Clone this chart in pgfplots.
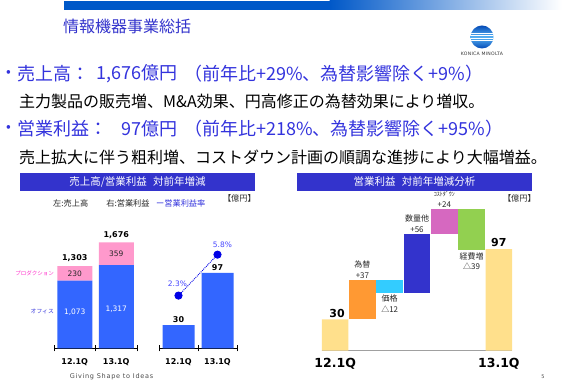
\documentclass[border=0pt]{standalone}
\usepackage{fontspec}
\setmainfont{DejaVu Sans}
\newfontfamily\jp{Noto Sans CJK JP}
\newfontfamily\giv[LetterSpace=11]{DejaVu Sans}
\newfontfamily\logofont[LetterSpace=6]{DejaVu Sans}
\usepackage{pgfplots}
\pgfplotsset{compat=1.18}
\newcommand{\fsz}[2]{\fontsize{#1}{#2}\selectfont}
\definecolor{topblue}{RGB}{0,88,200}
\definecolor{titleblue}{RGB}{51,51,204}
\definecolor{bulblue}{RGB}{51,51,221}
\definecolor{hdrblue}{RGB}{51,51,204}
\definecolor{barblue}{RGB}{51,102,255}
\definecolor{barpink}{RGB}{255,153,204}
\definecolor{prodpink}{RGB}{255,51,204}
\definecolor{dotblue}{RGB}{0,0,230}
\definecolor{pctblue}{RGB}{70,70,255}
\definecolor{wfyellow}{RGB}{255,224,140}
\definecolor{wforange}{RGB}{255,153,51}
\definecolor{wfcyan}{RGB}{51,204,255}
\definecolor{wfblue}{RGB}{51,51,204}
\definecolor{wfpink}{RGB}{214,104,192}
\definecolor{wfgreen}{RGB}{146,208,80}
\definecolor{basegray}{RGB}{160,160,160}
\definecolor{labgray}{RGB}{40,40,40}
\definecolor{logotop}{RGB}{0,70,180}
\definecolor{logomid}{RGB}{90,180,245}
\begin{document}
\begin{tikzpicture}[x=1pt,y=1pt]
\path[fill=white] (0,0) rectangle (562,390);
% top bar
\fill[topblue] (64,380) rectangle (330,389);
\shade[left color=topblue, right color=white] (329.5,380) rectangle (562,389);
% title
\node[anchor=west, inner sep=0, text=titleblue, font=\jp\fsz{16}{18}] at (63,364) {情報機器事業総括};
% logo
\begin{scope}
\clip (482,353) circle (11.5);
\shade[top color=logotop, bottom color=logotop, middle color=logomid] (470,341) rectangle (494,365);
\fill[white] (470,351.6) rectangle (494,352.4);
\fill[white] (470,354.0) rectangle (494,354.7);
\fill[white] (470,349.4) rectangle (494,350.0);
\fill[white] (470,356.3) rectangle (494,356.8);
\end{scope}
\node[inner sep=0, text=black!80, font=\logofont\fsz{4.6}{5}] at (482,336) {KONICA MINOLTA};
% bullet lines
\begin{scope}[every node/.style={inner sep=0, font=\jp\fsz{18}{20}, text=bulblue}]
\node[font=\jp\fsz{14}{16}] at (8.5,316) {•};
\node[anchor=west] at (17,316) {売上高：};
\node[anchor=east] at (178,316) {1,676億円};
\node[anchor=west] at (184,316) {（前年比+29\%、為替影響除く+9\%）};
\node[font=\jp\fsz{14}{16}] at (8.5,261) {•};
\node[anchor=west] at (17,261) {営業利益：};
\node[anchor=east] at (178,261) {97億円};
\node[anchor=west] at (184,261) {（前年比+218\%、為替影響除く+95\%）};
\end{scope}
\node[anchor=west, inner sep=0, text=black, font=\jp\fsz{16}{18}] at (19,289) {主力製品の販売増、M\&A効果、円高修正の為替効果により増収。};
\node[anchor=west, inner sep=0, text=black, font=\jp\fsz{16}{18}] at (19,233) {売上拡大に伴う粗利増、コストダウン計画の順調な進捗により大幅増益。};
% headers
\fill[hdrblue] (20,199) rectangle (255,217);
\node[text=white, font=\jp\fsz{10.5}{12}, inner sep=0] at (137.5,208) {売上高/営業利益\hspace{0.6em}対前年増減};
\fill[hdrblue] (297,199) rectangle (532,217);
\node[text=white, font=\jp\fsz{10.5}{12}, inner sep=0] at (414.5,208) {営業利益\hspace{0.6em}対前年増減分析};
\node[anchor=west, inner sep=0, font=\jp\fsz{8.2}{9}, text=labgray] at (53,187) {左:売上高\hspace{2.2em}右:営業利益\hspace{0.8em}\textcolor{bulblue}{ー営業利益率}};
\node[anchor=east, inner sep=0, font=\jp\fsz{8.2}{9}, text=labgray] at (256,192) {【億円】};
\node[anchor=east, inner sep=0, font=\jp\fsz{8.2}{9}, text=labgray] at (536,192) {【億円】};
% footer
\node[inner sep=0, text=black!70, font=\giv\fsz{6.5}{7}] at (111.5,13) {Giving Shape to Ideas};
\node[inner sep=0, text=black!70, font=\fsz{5}{6}] at (543,13) {5};

% left stacked chart
\begin{axis}[
  at={(54pt,41.5pt)}, anchor=south west,
  scale only axis, width=83pt, height=120pt,
  xmin=-0.5, xmax=1.5, ymin=0, ymax=1896,
  ybar stacked, bar width=35pt,
  axis x line*=bottom, axis y line=none,
  x axis line style={black, line width=1.2pt},
  xtick={-0.5,0.5,1.5}, x tick label as interval, xticklabels={12.1Q,13.1Q},
  xtick style={black, line width=1pt}, major tick length=6pt, tick align=center,
  xticklabel style={font=\bfseries\fsz{8}{9}, text=black, yshift=-4pt},
  clip=false,
]
\addplot[fill=barblue, draw=none] coordinates {(0,1073) (1,1317)};
\addplot[fill=barpink, draw=none] coordinates {(0,230) (1,359)};
\end{axis}
% labels for left stacked chart (overlay axis, same frame)
\begin{axis}[
  at={(54pt,41.5pt)}, anchor=south west,
  scale only axis, width=83pt, height=120pt,
  xmin=-0.5, xmax=1.5, ymin=0, ymax=1896,
  hide axis, clip=false,
]
\node[anchor=south, font=\bfseries\fsz{8}{9}, inner sep=1pt, yshift=3pt] at (axis cs:0,1303) {1,303};
\node[anchor=south, font=\bfseries\fsz{8}{9}, inner sep=1pt, yshift=3pt] at (axis cs:1,1676) {1,676};
\node[font=\fsz{7.5}{9}, text=labgray] at (axis cs:0,1188) {230};
\node[font=\fsz{7.5}{9}, text=labgray] at (axis cs:1,1496) {359};
\node[font=\fsz{7.5}{9}, text=white] at (axis cs:0,580) {1,073};
\node[font=\fsz{7.5}{9}, text=white] at (axis cs:1,620) {1,317};
\node[anchor=east, font=\jp\fsz{5.5}{6}, text=prodpink, inner sep=0] at (axis cs:-0.5,1188) {プロダクション\hspace{2pt}};
\node[anchor=east, font=\jp\fsz{5.8}{6}, text=bulblue, inner sep=0] at (axis cs:-0.5,580) {オフィス\hspace{9pt}};
\end{axis}

% left small chart: operating profit
\begin{axis}[
  at={(159pt,41.5pt)}, anchor=south west,
  scale only axis, width=78pt, height=109.2pt,
  xmin=-0.5, xmax=1.5, ymin=0, ymax=140,
  ybar, bar width=32pt,
  axis x line*=bottom, axis y line=none,
  x axis line style={black, line width=1.2pt},
  xtick={-0.5,0.5,1.5}, x tick label as interval, xticklabels={12.1Q,13.1Q},
  xtick style={black, line width=1pt}, major tick length=6pt, tick align=center,
  xticklabel style={font=\bfseries\fsz{8}{9}, text=black, yshift=-4pt},
  clip=false,
]
\addplot[fill=barblue, draw=none] coordinates {(0,30) (1,97)};
\node[anchor=south, font=\bfseries\fsz{8}{9}, inner sep=1pt, yshift=1pt] at (axis cs:0,30) {30};
\node[anchor=south, font=\bfseries\fsz{8}{9}, inner sep=1pt, yshift=1pt] at (axis cs:1,97) {97};
\end{axis}
\begin{axis}[
  at={(159pt,41.5pt)}, anchor=south west,
  scale only axis, width=78pt, height=109.2pt,
  xmin=-0.5, xmax=1.5, ymin=-2.22, ymax=7.11,
  hide axis, clip=false,
]
\addplot[dotblue, densely dotted, line width=0.9pt, mark=*, mark size=3.6pt,
  mark options={solid, fill=dotblue, draw=dotblue}] coordinates {(0,2.3) (1,5.8)};
\node[font=\fsz{7.5}{9}, text=pctblue] at ([xshift=-1pt,yshift=12pt]axis cs:0,2.3) {2.3\%};
\node[font=\fsz{7.5}{9}, text=pctblue] at ([xshift=5pt,yshift=10pt]axis cs:1,5.8) {5.8\%};
\end{axis}

% waterfall
\begin{axis}[
  at={(321.5pt,39.3pt)}, anchor=south west,
  scale only axis, width=191pt, height=157.2pt,
  xmin=-0.5, xmax=6.5, ymin=0, ymax=150,
  ybar stacked, bar width=26.5pt,
  axis x line*=bottom, axis y line=none,
  x axis line style={basegray, line width=1.6pt},
  xtick={0,6}, xticklabels={12.1Q,13.1Q}, major tick length=0pt,
  xticklabel style={font=\bfseries\fsz{12.5}{13}, text=black, yshift=-4pt},
  clip=false,
]
\addplot[draw=none, fill=none] coordinates {(0,0) (1,30) (2,55) (3,55) (4,111) (5,96) (6,0)};
\addplot[fill=wfyellow, draw=none] coordinates {(0,30) (1,0) (2,0) (3,0) (4,0) (5,0) (6,97)};
\addplot[fill=wforange, draw=none] coordinates {(0,0) (1,37) (2,0) (3,0) (4,0) (5,0) (6,0)};
\addplot[fill=wfcyan, draw=none] coordinates {(0,0) (1,0) (2,12) (3,0) (4,0) (5,0) (6,0)};
\addplot[fill=wfblue, draw=none] coordinates {(0,0) (1,0) (2,0) (3,56) (4,0) (5,0) (6,0)};
\addplot[fill=wfpink, draw=none] coordinates {(0,0) (1,0) (2,0) (3,0) (4,24) (5,0) (6,0)};
\addplot[fill=wfgreen, draw=none] coordinates {(0,0) (1,0) (2,0) (3,0) (4,0) (5,39) (6,0)};
\node[anchor=south, font=\bfseries\fsz{11}{12}, inner sep=1pt, xshift=2pt] at (axis cs:0,30) {30};
\node[anchor=south, font=\bfseries\fsz{11}{12}, inner sep=1pt, yshift=1pt] at (axis cs:6,97) {97};
\node[anchor=south, align=center, font=\jp\fsz{8}{10.5}, text=labgray, inner sep=1pt, yshift=1pt] at (axis cs:1,67) {為替\\+37};
\node[anchor=north, align=center, font=\jp\fsz{8}{10.5}, text=labgray, inner sep=1pt, yshift=-1pt] at (axis cs:2,55) {価格\\△12};
\node[anchor=south, align=center, font=\jp\fsz{8}{10.5}, text=labgray, inner sep=1pt, yshift=1pt] at (axis cs:3,111) {数量他\\+56};
\node[anchor=south, align=center, font=\jp\fsz{8}{10.5}, text=labgray, inner sep=1pt, yshift=1pt] at (axis cs:4,135) {{\fsz{6}{7}ｺｽﾄﾀﾞｳﾝ}\\+24};
\node[anchor=north, align=center, font=\jp\fsz{8}{10.5}, text=labgray, inner sep=1pt, yshift=-1pt] at (axis cs:5,96) {経費増\\△39};
\end{axis}
\end{tikzpicture}
\end{document}
